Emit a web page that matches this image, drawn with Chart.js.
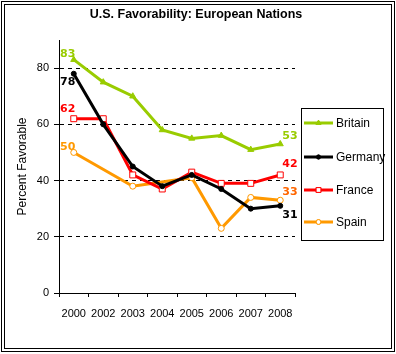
<!DOCTYPE html>
<html>

<head>
  <meta charset="utf-8">
  <style>
    body { margin: 0; background: #fff; }
    #wrap { position: relative; width: 396px; height: 354px; }
  </style>
</head>

<body>

  <div id="wrap">
    <canvas id="myChart" width="396" height="354"></canvas>
  </div>

  <script src="https://cdn.jsdelivr.net/npm/chart.js@4.4.0/dist/chart.umd.min.js"></script>
  <script type="text/javascript">
    // data
    var years = ['2000', '2002', '2003', '2004', '2005', '2006', '2007', '2008'];
    var britain = [83, 75, 70, 58, 55, 56, 51, 53];
    var germany = [78, 60, 45, 38, 42, 37, 30, 31];
    var france = [62, 62, 42, 37, 43, 39, 39, 42];
    var spain = [50, null, 38, null, 41, 23, 34, 33];
    var yTicks = [0, 20, 40, 60, 80];

    var titleText = 'U.S. Favorability: European Nations';
    var font = 'Liberation Sans, Arial, sans-serif';

    // look of each series, plus where its end labels sit
    var series = [
      { name: 'Britain', values: britain, color: '#99cc00', labelColor: '#99cc00', point: 'triangle', radius: 3.5, fill: '#99cc00', first: -6, last: -8 },
      { name: 'Germany', values: germany, color: '#000000', labelColor: '#000000', point: 'circle', radius: 2.5, fill: '#000000', first: 8, last: 9 },
      { name: 'France', values: france, color: '#ff0000', labelColor: '#ff0000', point: 'rect', radius: 4.2, fill: '#ffffff', first: -10, last: -11 },
      { name: 'Spain', values: spain, color: '#ff9900', labelColor: '#ff9900', endColor: '#ff6600', point: 'circle', radius: 3, fill: '#ffffff', first: -5, last: -8 }
    ];

    function lastIndex(arr) {
      for (var i = arr.length - 1; i >= 0; i--) {
        if (arr[i] !== null) return i;
      }
      return 0;
    }

    var framePlugin = {
      id: 'frame',
      beforeDraw: function(chart) {
        var ctx = chart.ctx;
        ctx.save();
        ctx.fillStyle = '#fff';
        ctx.fillRect(0, 0, chart.width, chart.height);
        ctx.restore();
      },
      afterDraw: function(chart) {
        var ctx = chart.ctx;
        var area = chart.chartArea;
        ctx.save();

        // double border round the picture
        ctx.strokeStyle = '#000';
        ctx.lineWidth = 1;
        ctx.strokeRect(1.5, 1.5, 393, 350);
        ctx.strokeRect(4.5, 4.5, 387, 344);

        // title
        ctx.fillStyle = '#000';
        ctx.font = 'bold 12.5px ' + font;
        ctx.textAlign = 'center';
        ctx.textBaseline = 'middle';
        ctx.fillText(titleText, 196, 15);

        // legend
        var lx = 301.5, ly = 108.5, lw = 82, lh = 132;
        ctx.strokeRect(lx, ly, lw, lh);
        ctx.font = '12px ' + font;
        ctx.textAlign = 'left';
        var rows = [123, 157, 190, 222];
        series.forEach(function(s, i) {
          var y = rows[i];
          ctx.strokeStyle = s.color;
          ctx.lineWidth = 3;
          ctx.beginPath();
          ctx.moveTo(304, y);
          ctx.lineTo(333, y);
          ctx.stroke();
          ctx.lineWidth = 1;
          ctx.fillStyle = s.fill;
          Chart.helpers.drawPoint(ctx, { pointStyle: s.point, radius: s.radius * 0.8, borderWidth: 1, rotation: 0 }, 318.5, y);
          ctx.fill();
          ctx.stroke();
          ctx.fillStyle = '#000';
          ctx.fillText(s.name, 336, y + 1);
        });

        // first and last values of each line
        ctx.font = 'bold 11px DejaVu Sans, sans-serif';
        ctx.textBaseline = 'middle';
        series.forEach(function(s, i) {
          var pts = chart.getDatasetMeta(i).data;
          var a = pts[0];
          var li = lastIndex(s.values);
          var b = pts[li];
          ctx.fillStyle = s.labelColor;
          ctx.fillText(String(s.values[0]), area.left + 1, a.y + s.first);
          ctx.fillStyle = s.endColor || s.labelColor;
          ctx.fillText(String(s.values[li]), b.x + 2, b.y + s.last);
        });

        ctx.restore();
      }
    };

    var ctx = document.getElementById('myChart').getContext('2d');
    var chart = new Chart(ctx, {
      type: 'line',
      data: {
        labels: years,
        datasets: series.map(function(s) {
          return {
            label: s.name,
            data: s.values,
            borderColor: s.color,
            backgroundColor: s.fill,
            borderWidth: 3,
            pointStyle: s.point,
            pointRadius: s.radius,
            pointBorderWidth: 1,
            pointBorderColor: s.color,
            pointBackgroundColor: s.fill,
            spanGaps: true,
            tension: 0,
            clip: false
          };
        })
      },
      options: {
        responsive: false,
        animation: false,
        layout: { padding: { top: 40, right: 101, left: 0, bottom: 0 } },
        plugins: {
          legend: { display: false },
          title: { display: false },
          tooltip: { enabled: false }
        },
        scales: {
          x: {
            offset: true,
            grid: { display: true, drawOnChartArea: false, offset: true, color: '#000', tickLength: 4 },
            border: { color: '#000', width: 1 },
            ticks: { color: '#000', font: { family: font, size: 11 }, padding: 10, maxRotation: 0, autoSkip: false },
            afterFit: function(scale) { scale.height = 61; }
          },
          y: {
            min: 0,
            max: 90,
            afterBuildTicks: function(scale) {
              scale.ticks = yTicks.map(function(v) { return { value: v }; });
            },
            grid: {
              color: function(c) { return c.tick && c.tick.value === 0 ? 'rgba(0,0,0,0)' : '#000'; },
              tickColor: '#000',
              tickLength: 5
            },
            border: { color: '#000', width: 1, dash: [4, 4] },
            ticks: { color: '#000', font: { family: font, size: 11 }, padding: 5 },
            title: { display: true, text: 'Percent Favorable', color: '#000', font: { family: font, size: 12 }, padding: { top: 15, bottom: 0 } },
            afterFit: function(scale) { scale.width = 59; }
          }
        }
      },
      plugins: [framePlugin]
    });
  </script>
</body>

</html>
